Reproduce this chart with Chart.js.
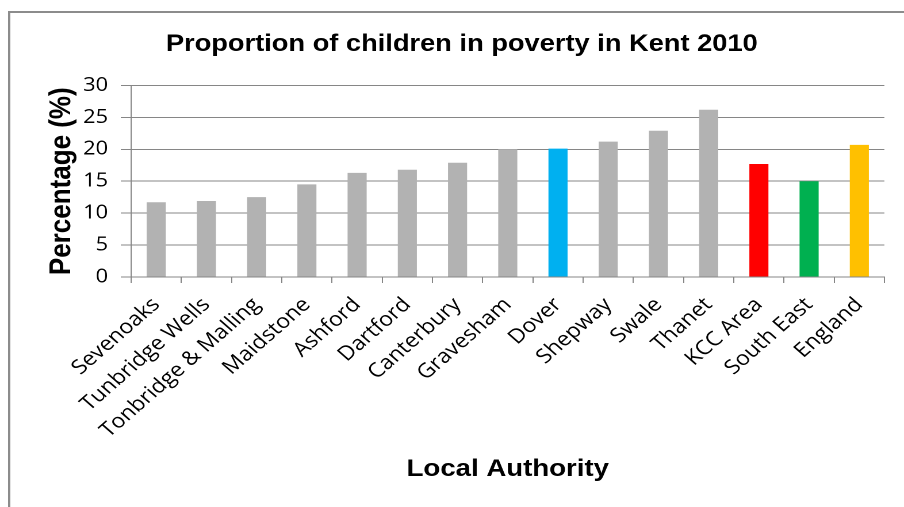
<!DOCTYPE html>
<html>
<head>
<meta charset="utf-8">
<title>Proportion of children in poverty in Kent 2010</title>
<script src="https://cdn.jsdelivr.net/npm/chart.js@4.4.1/dist/chart.umd.min.js"></script>
<style>
    html, body { margin: 0; padding: 0; background: #fff; overflow: hidden; }
    /* the original picture is stretched sideways, so the chart is drawn narrower and widened */
    #wrap { position: absolute; left: 0; top: 0; width: 786px; height: 507px; transform: scaleX(1.1501); transform-origin: 0 0; }
</style>
</head>
<body>
<div id="wrap"><canvas id="povertyChart"></canvas></div>
<script>
const categories = ['Sevenoaks', 'Tunbridge Wells', 'Tonbridge & Malling', 'Maidstone', 'Ashford',
    'Dartford', 'Canterbury', 'Gravesham', 'Dover', 'Shepway', 'Swale', 'Thanet',
    'KCC Area', 'South East', 'England'];
const percentValues = [11.7, 11.9, 12.5, 14.5, 16.3, 16.8, 17.9, 20.0, 20.1, 21.2, 22.9, 26.2, 17.7, 15.0, 20.7];
const highlightColours = { 'Dover': '#00B0F0', 'KCC Area': '#FF0000', 'South East': '#00B050', 'England': '#FFC000' };
const yTicks = [0, 5, 10, 15, 20, 25, 30];

const chartTitle = 'Proportion of children in poverty in Kent 2010';
const yTitle = 'Percentage (%)';
const xTitle = 'Local Authority';

const axisGrey = '#868686';

// marco gris arriba y a la izquierda, como en la imagen original
const framePlugin = {
    id: 'frame',
    beforeDraw: function (chart) {
        const ctx = chart.ctx;
        ctx.save();
        ctx.strokeStyle = '#8c8c8c';
        ctx.lineWidth = 2;
        ctx.beginPath();
        ctx.moveTo(8, chart.height);
        ctx.lineTo(8, 12);
        ctx.lineTo(chart.width, 12);
        ctx.stroke();
        ctx.restore();
    }
};

new Chart(document.getElementById('povertyChart'), {
    type: 'bar',
    data: {
        labels: categories,
        datasets: [{
            label: yTitle,
            data: percentValues,
            backgroundColor: categories.map(c => highlightColours[c] || '#B2B2B2'),
            borderWidth: 0,
            categoryPercentage: 1,
            barPercentage: 0.38
        }]
    },
    options: {
        responsive: true,
        maintainAspectRatio: false,
        animation: false,
        devicePixelRatio: 2,
        layout: { padding: { left: 34, right: 17, top: 0, bottom: 0 } },
        plugins: {
            legend: { display: false },
            tooltip: { enabled: false },
            title: {
                display: true,
                text: chartTitle,
                color: '#000',
                font: { family: '"Liberation Sans", Arial, sans-serif', size: 23.7, weight: 'bold' },
                padding: { top: 30, bottom: 27 }
            }
        },
        scales: {
            x: {
                grid: { display: true, drawOnChartArea: false, drawTicks: true, tickLength: 6, color: axisGrey },
                border: { display: true, color: axisGrey },
                ticks: {
                    color: '#000',
                    font: { family: '"Open Sans", sans-serif', size: 20 },
                    minRotation: 45,
                    maxRotation: 45,
                    autoSkip: false,
                    padding: 10
                },
                title: {
                    display: true,
                    text: xTitle,
                    color: '#000',
                    font: { family: '"Liberation Sans", Arial, sans-serif', size: 24, weight: 'bold' },
                    padding: { top: 0, bottom: 23 }
                },
                afterFit: function (scale) { scale.height = 230; }
            },
            y: {
                min: yTicks[0],
                max: yTicks[yTicks.length - 1],
                grid: { color: axisGrey, drawTicks: true, tickLength: 9 },
                border: { display: true, color: axisGrey },
                ticks: {
                    stepSize: 5,
                    color: '#000',
                    font: { family: '"Open Sans", sans-serif', size: 19 },
                    padding: 11
                },
                title: {
                    display: true,
                    text: yTitle,
                    color: '#000',
                    font: { family: '"Liberation Sans", Arial, sans-serif', size: 26, weight: 'bold' },
                    padding: { top: 4, bottom: 0 }
                },
                afterFit: function (scale) { scale.width = 80; }
            }
        }
    },
    plugins: [framePlugin]
});
</script>
</body>
</html>
